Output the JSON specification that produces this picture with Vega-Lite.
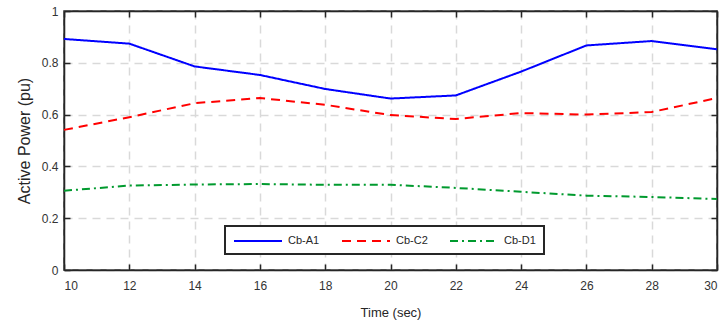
{
  "$schema": "https://vega.github.io/schema/vega-lite/v6.json",
  "width": 653,
  "height": 259,
  "autosize": {"type": "none"},
  "padding": {"left": 64, "top": 11, "right": 6, "bottom": 54},
  "background": "white",
  "config": {
    "font": "Liberation Sans",
    "view": {"stroke": "#262626", "strokeWidth": 1.5},
    "legend": {"strokeWidth": 2, "strokeColor": "#262626", "fillColor": "white"},
    "axis": {
      "labelFont": "Liberation Sans",
      "titleFont": "Liberation Sans",
      "labelFontSize": 12,
      "labelColor": "#333333",
      "titleColor": "#262626",
      "titleFontWeight": "normal",
      "domainColor": "#262626",
      "domainWidth": 1.5,
      "tickColor": "#262626",
      "tickWidth": 1.5,
      "gridColor": "#d9d9d9",
      "gridDash": [8, 6],
      "gridWidth": 1.5
    }
  },
  "data": {
    "values": [
      {"t": 10, "p": 0.892, "s": "Cb-A1"},
      {"t": 12, "p": 0.874, "s": "Cb-A1"},
      {"t": 14, "p": 0.786, "s": "Cb-A1"},
      {"t": 16, "p": 0.753, "s": "Cb-A1"},
      {"t": 18, "p": 0.699, "s": "Cb-A1"},
      {"t": 20, "p": 0.662, "s": "Cb-A1"},
      {"t": 22, "p": 0.674, "s": "Cb-A1"},
      {"t": 24, "p": 0.766, "s": "Cb-A1"},
      {"t": 26, "p": 0.867, "s": "Cb-A1"},
      {"t": 28, "p": 0.884, "s": "Cb-A1"},
      {"t": 30, "p": 0.852, "s": "Cb-A1"},
      {"t": 10, "p": 0.541, "s": "Cb-C2"},
      {"t": 12, "p": 0.590, "s": "Cb-C2"},
      {"t": 14, "p": 0.644, "s": "Cb-C2"},
      {"t": 16, "p": 0.664, "s": "Cb-C2"},
      {"t": 18, "p": 0.638, "s": "Cb-C2"},
      {"t": 20, "p": 0.598, "s": "Cb-C2"},
      {"t": 22, "p": 0.583, "s": "Cb-C2"},
      {"t": 24, "p": 0.606, "s": "Cb-C2"},
      {"t": 26, "p": 0.600, "s": "Cb-C2"},
      {"t": 28, "p": 0.610, "s": "Cb-C2"},
      {"t": 30, "p": 0.664, "s": "Cb-C2"},
      {"t": 10, "p": 0.306, "s": "Cb-D1"},
      {"t": 12, "p": 0.326, "s": "Cb-D1"},
      {"t": 14, "p": 0.330, "s": "Cb-D1"},
      {"t": 16, "p": 0.332, "s": "Cb-D1"},
      {"t": 18, "p": 0.329, "s": "Cb-D1"},
      {"t": 20, "p": 0.329, "s": "Cb-D1"},
      {"t": 22, "p": 0.317, "s": "Cb-D1"},
      {"t": 24, "p": 0.302, "s": "Cb-D1"},
      {"t": 26, "p": 0.287, "s": "Cb-D1"},
      {"t": 28, "p": 0.282, "s": "Cb-D1"},
      {"t": 30, "p": 0.274, "s": "Cb-D1"}
    ]
  },
  "layer": [
    {
      "mark": {"type": "line", "strokeWidth": 2},
      "encoding": {
        "x": {
          "field": "t", "type": "quantitative",
          "scale": {"domain": [10, 30], "nice": false, "zero": false},
          "axis": {"title": "Time (sec)", "titleFontSize": 13, "values": [10,12,14,16,18,20,22,24,26,28,30], "tickSize": -6, "labelPadding": 16, "titlePadding": 15}
        },
        "y": {
          "field": "p", "type": "quantitative",
          "scale": {"domain": [0, 1], "nice": false},
          "axis": {"title": "Active Power (pu)", "titleFontSize": 16, "format": "~g", "values": [0, 0.2, 0.4, 0.6, 0.8, 1], "tickSize": -6, "labelPadding": 12, "titlePadding": 9}
        },
        "color": {
          "field": "s", "type": "nominal",
          "scale": {"domain": ["Cb-A1", "Cb-C2", "Cb-D1"], "range": ["#0000ff", "#ff0000", "#009a2e"]},
          "legend": {
            "title": null,
            "orient": "none",
            "legendX": 161,
            "legendY": 215,
            "direction": "horizontal",
            "columns": 3,
            "symbolType": "M-1,0H7",
            "symbolSize": 144,
            "symbolStrokeWidth": 2,
            "labelFontSize": 11,
            "labelColor": "#262626",
            "labelFont": "Liberation Sans",
            "labelOffset": 41,
            "columnPadding": 18,
            "padding": 8
          }
        },
        "strokeDash": {
          "field": "s", "type": "nominal",
          "scale": {"domain": ["Cb-A1", "Cb-C2", "Cb-D1"], "range": [[1, 0], [9, 6], [8, 4, 2, 4]]},
          "legend": {
            "title": null,
            "orient": "none",
            "legendX": 161,
            "legendY": 215,
            "direction": "horizontal",
            "columns": 3,
            "symbolType": "M-1,0H7",
            "symbolSize": 144,
            "symbolStrokeWidth": 2,
            "labelFontSize": 11,
            "labelColor": "#262626",
            "labelFont": "Liberation Sans",
            "labelOffset": 41,
            "columnPadding": 18,
            "padding": 8
          }
        }
      }
    },
    {
      "mark": {"type": "line", "opacity": 0},
      "encoding": {
        "x": {
          "field": "t", "type": "quantitative",
          "axis": {"orient": "top", "title": null, "labels": false, "grid": false, "values": [10,12,14,16,18,20,22,24,26,28,30], "tickSize": -6}
        },
        "y": {
          "field": "p", "type": "quantitative",
          "axis": {"orient": "right", "title": null, "labels": false, "grid": false, "values": [0, 0.2, 0.4, 0.6, 0.8, 1], "tickSize": -6}
        },
        "detail": {"field": "s"}
      }
    }
  ],
  "resolve": {"axis": {"x": "independent", "y": "independent"}}
}
